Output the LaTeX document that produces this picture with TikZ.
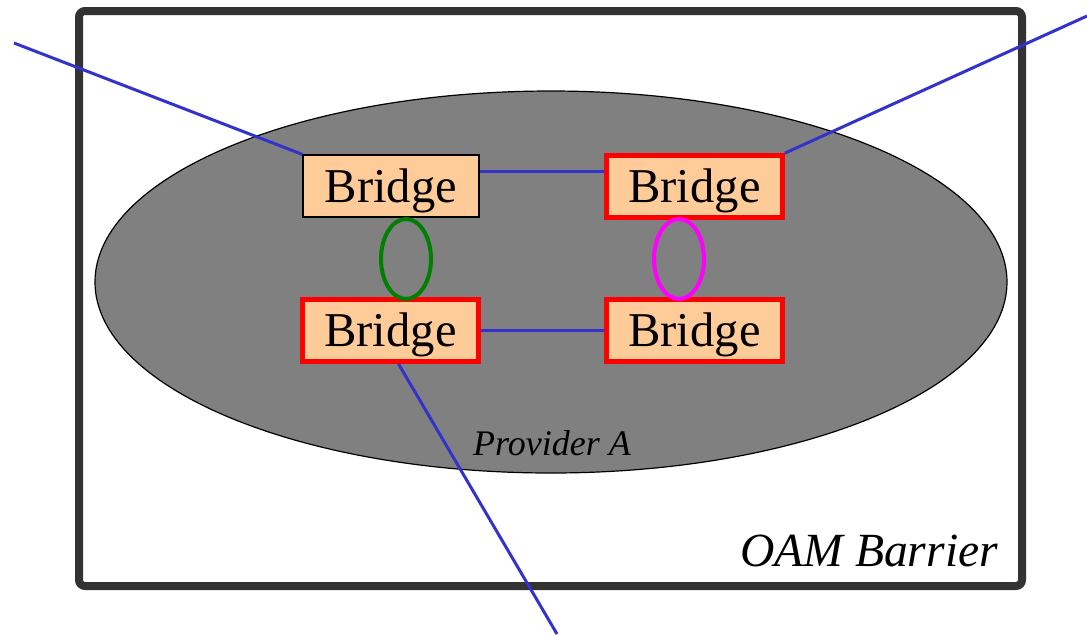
\documentclass[tikz,border=0pt]{standalone}
\usepackage{fontspec}
\setmainfont{Liberation Serif}
\usepackage{tikz}
\usetikzlibrary{shapes,calc}
\definecolor{peach}{RGB}{255,204,153}
\definecolor{linkblue}{RGB}{51,51,204}
\definecolor{barrier}{RGB}{51,51,51}
\definecolor{lagpink}{RGB}{255,0,255}
\definecolor{laggreen}{RGB}{0,128,0}
\tikzstyle{bridge}=[draw=black, fill=peach, line width=.6pt, minimum width=88pt, minimum height=31pt, inner sep=0pt, text height=21pt, text depth=5pt, font=\fontsize{24.3}{28}\selectfont]
\tikzstyle{mep}=[bridge, draw=red, line width=2.4pt]
\tikzstyle{link}=[draw=linkblue, line width=1.5pt]
\tikzstyle{ring}=[draw, ellipse, line width=2pt, minimum width=25pt, minimum height=40pt, inner sep=0pt]

\begin{document}
\begin{tikzpicture}[x=.5pt, y=-.5pt]
 \useasboundingbox (0,0) rectangle (1087,634);
 % domain
 \draw[barrier, line width=4pt, rounded corners=3pt] (79,11) rectangle (1022,586);
 \filldraw[fill=gray, draw=black, line width=.6pt] (551,282) ellipse (456 and 191);
 \node[font=\fontsize{18}{22}\selectfont\itshape] (prov) at (552,443) {Provider A};
 \node[font=\fontsize{23.8}{28}\selectfont\itshape] (oam) at (869,551) {OAM Barrier};
%
 \coordinate (inl) at (14,43);
 \coordinate (inr) at (1087,16);
 \coordinate (inb) at (557,634);
%
 \node[bridge] (b1) at (391,186) {Bridge};
 \node[mep] (b2) at (694.5,186.5) {Bridge};
 \node[mep] (b3) at (390.5,330.5) {Bridge};
 \node[mep] (b4) at (694.5,330.5) {Bridge};
%
 \draw[link] (inl) -- (b1.north west);
 \draw[link] (inr) -- (b2.north east);
 \draw[link] (inb) -- ($(b3.south)+(8,0)$);
 \draw[link] (b1.east |- 0,171) -- (b2.west |- 0,171);
 \draw[link] (b3.east) -- (b4.west);
%
 \node[ring, draw=laggreen] (lag1) at (406,259) {};
 \node[ring, draw=lagpink] (lag2) at (679,259) {};
\end{tikzpicture}
\end{document}
